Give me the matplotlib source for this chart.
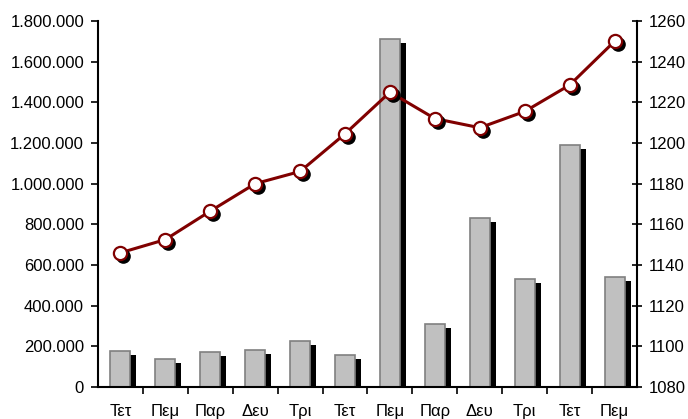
import matplotlib
matplotlib.use('Agg')
import numpy as np
import matplotlib.pyplot as plt
import matplotlib.ticker as mticker
from matplotlib.transforms import ScaledTranslation

plt.rcParams['font.family'] = ['Liberation Sans', 'DejaVu Sans']

days = ['Τετ', 'Πεμ', 'Παρ', 'Δευ', 'Τρι', 'Τετ', 'Πεμ', 'Παρ', 'Δευ', 'Τρι', 'Τετ', 'Πεμ']
bar_vals = [178000, 140000, 171000, 180000, 226000, 156000, 1710000, 311000, 831000, 531000, 1190000, 540000]
line_vals = [1146, 1152.5, 1166.5, 1180, 1186, 1204.5, 1225, 1212, 1207.5, 1215.5, 1228.5, 1250]

x = np.arange(len(days))

fig = plt.figure(figsize=(6.88, 4.19), dpi=100)
ax = fig.add_axes([0.1424, 0.0764, 0.7835, 0.8735])

# black shadow bars, shifted right / down
shadow = ax.transData + ScaledTranslation(0.06, -0.04, fig.dpi_scale_trans)
ax.bar(x, bar_vals, width=0.445, color='black', transform=shadow, zorder=1)
ax.bar(x, bar_vals, width=0.445, color='#c0c0c0', edgecolor='#808080', linewidth=1.2, zorder=2)

ax.set_xlim(-0.5, len(days) - 0.5)
ax.set_ylim(0, 1800000)
ax.yaxis.set_major_locator(mticker.MultipleLocator(200000))
ax.yaxis.set_major_formatter(mticker.FuncFormatter(lambda v, p: f'{int(v):,}'.replace(',', '.')))
ax.set_xticks(x)
ax.set_xticklabels(days)
ax.set_xticks(x[:-1] + 0.5, minor=True)
ax.tick_params(axis='x', which='major', length=0, pad=12, labelsize=12)
ax.tick_params(axis='x', which='minor', length=5, width=1.2, direction='out')
ax.tick_params(axis='y', length=5, width=1.2, direction='out', labelsize=12, pad=5)
ax.spines['top'].set_visible(False)
ax.spines['right'].set_visible(False)
for s in ['left', 'bottom']:
    ax.spines[s].set_linewidth(1.5)

ax2 = ax.twinx()
ax2.set_ylim(1080, 1260)
ax2.yaxis.set_major_locator(mticker.MultipleLocator(20))
ax2.tick_params(axis='y', length=7, width=1.2, direction='inout', labelsize=12, pad=5)
ax2.spines['top'].set_visible(False)
ax2.spines['left'].set_visible(False)
ax2.spines['bottom'].set_visible(False)
ax2.spines['right'].set_linewidth(1.5)

mshadow = ax2.transData + ScaledTranslation(0.03, -0.03, fig.dpi_scale_trans)
ax2.plot(x, line_vals, color='#800000', linewidth=2.2, zorder=2)
ax2.plot(x, line_vals, linestyle='none', marker='o', markersize=9.5,
         markerfacecolor='black', markeredgecolor='black', transform=mshadow, zorder=3)
ax2.plot(x, line_vals, linestyle='none', marker='o', markersize=9.5,
         markerfacecolor='white', markeredgecolor='#800000', markeredgewidth=1.6, zorder=4)

fig.savefig('out.png', dpi=100)
